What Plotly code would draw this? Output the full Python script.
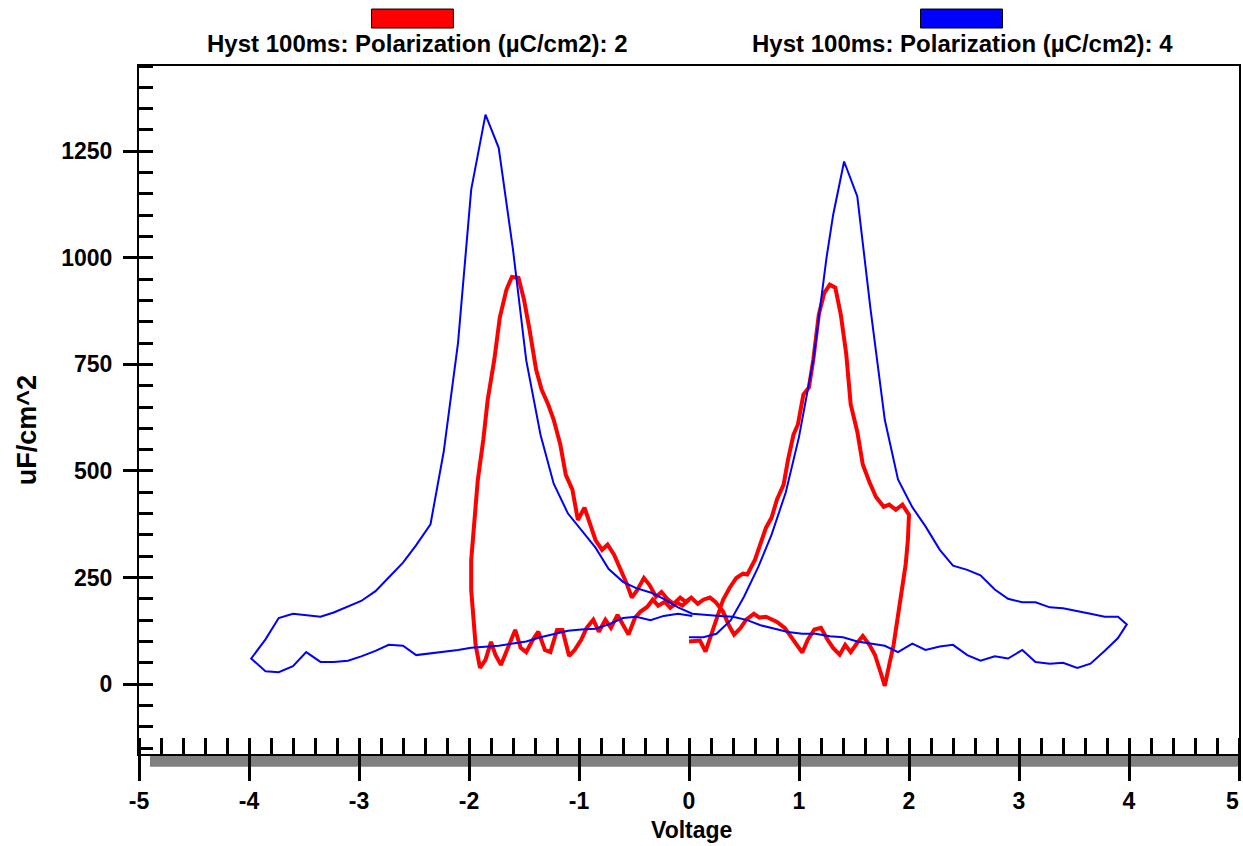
import plotly.graph_objects as go

# ── Data ────────────────────────────────────────────────────────────────────
red_name = "Hyst 100ms: Polarization (µC/cm2): 2"
red_v = [0.00, 0.10, 0.15, 0.21, 0.26, 0.31, 0.37, 0.43, 0.49, 0.53, 0.60, 0.64, 0.70, 0.75,
         0.80, 0.86, 0.90, 0.95, 0.99, 1.04, 1.09, 1.13, 1.18, 1.23, 1.28, 1.33, 1.38, 1.43,
         1.47, 1.53, 1.58, 1.64, 1.70, 1.77, 1.82, 1.88, 1.94, 2.00,
         1.99, 1.97, 1.93, 1.89, 1.86, 1.82, 1.78, 1.74, 1.69, 1.64, 1.58, 1.53, 1.47, 1.42,
         1.37, 1.31, 1.26, 1.20, 1.14, 1.08, 1.03, 0.98, 0.92, 0.87, 0.80, 0.75, 0.70, 0.64,
         0.59, 0.52, 0.47, 0.41, 0.36, 0.31, 0.24, 0.19, 0.13, 0.08, 0.02, -0.03, -0.08, -0.14,
         -0.19, -0.25, -0.30, -0.36, -0.41, -0.47, -0.52, -0.57, -0.63, -0.68, -0.74, -0.79,
         -0.85, -0.90, -0.95, -1.01, -1.06, -1.12, -1.17, -1.23, -1.28, -1.34, -1.39, -1.45,
         -1.50, -1.55, -1.61, -1.66, -1.72, -1.77, -1.83, -1.87, -1.92, -1.95, -1.98,
         -1.98, -1.96, -1.94, -1.90, -1.85, -1.80, -1.76, -1.71, -1.67, -1.62, -1.58, -1.53,
         -1.48, -1.42, -1.37, -1.31, -1.26, -1.20, -1.15, -1.09, -1.04, -0.98, -0.93, -0.87,
         -0.82, -0.76, -0.71, -0.65, -0.60, -0.55, -0.49, -0.44, -0.38, -0.33, -0.28, -0.22,
         -0.17, -0.11, -0.06, 0.00]
red_c = [100, 102, 76, 120, 158, 198, 226, 249, 259, 257, 292, 320, 367, 390,
         433, 468, 526, 585, 609, 679, 696, 761, 867, 918, 937, 930, 867, 773,
         656, 592, 515, 474, 439, 416, 421, 409, 421, 397,
         339, 281, 210, 151, 92, 45, -4, 29, 69, 92, 113, 97, 75, 92,
         69, 85, 104, 132, 128, 104, 74, 92, 116, 132, 146, 151, 158, 156,
         165, 151, 132, 116, 139, 170, 193, 203, 198, 188, 203, 193, 203, 188,
         198, 216, 205, 233, 249, 221, 203, 238, 273, 303, 327, 315,
         338, 374, 414, 385, 456, 491, 562, 620, 656, 691, 738, 832,
         902, 953, 955, 925, 860, 761, 667, 573, 479, 385, 291,
         221, 151, 92, 38, 57, 99, 69, 45, 69, 104, 127, 85,
         75, 104, 123, 80, 75, 127, 127, 66, 80, 104, 132, 151,
         123, 151, 132, 162, 139, 116, 156, 170, 181, 198, 184, 193,
         179, 191, 184, 198]

blue_name = "Hyst 100ms: Polarization (µC/cm2): 4"
blue_v = [0.00, 0.13, 0.25, 0.38, 0.50, 0.63, 0.75, 0.88, 1.00, 1.13, 1.25, 1.31, 1.41, 1.53,
          1.65, 1.78, 1.90, 2.03, 2.15, 2.28, 2.40, 2.53, 2.65, 2.78, 2.90, 3.03, 3.15, 3.28,
          3.40, 3.53, 3.65, 3.78, 3.90, 3.98,
          3.90, 3.78, 3.65, 3.53, 3.40, 3.28, 3.15, 3.03, 2.90, 2.78, 2.65, 2.53, 2.40, 2.28,
          2.15, 2.03, 1.90, 1.78, 1.65, 1.53, 1.40, 1.28, 1.15, 1.03, 0.90, 0.78, 0.65, 0.53,
          0.40, 0.28, 0.15, 0.03, -0.10, -0.23, -0.35, -0.48, -0.60, -0.73, -0.85, -0.98,
          -1.10, -1.23, -1.35, -1.48, -1.60, -1.73, -1.85, -1.98, -2.10, -2.23, -2.35, -2.48,
          -2.60, -2.73, -2.85, -2.98, -3.10, -3.23, -3.35, -3.48, -3.60, -3.73, -3.85, -3.98,
          -3.85, -3.73, -3.60, -3.48, -3.35, -3.23, -3.10, -2.98, -2.85, -2.73, -2.60, -2.48,
          -2.35, -2.23, -2.10, -1.98, -1.85, -1.73, -1.60, -1.48, -1.35, -1.23, -1.10, -0.98,
          -0.85, -0.73, -0.60, -0.48, -0.35, -0.23, -0.10, 0.03]
blue_c = [110, 110, 118, 150, 205, 275, 350, 450, 580, 760, 1000, 1100, 1226, 1144,
          880, 620, 480, 415, 370, 315, 278, 268, 255, 222, 200, 192, 192, 180,
          178, 172, 165, 158, 158, 140,
          108, 78, 48, 38, 50, 48, 52, 80, 60, 65, 55, 68, 92, 88,
          80, 95, 75, 90, 95, 100, 110, 112, 118, 118, 122, 130, 138, 150,
          158, 160, 162, 165, 180, 200, 215, 225, 240, 270, 320, 362,
          400, 470, 585, 760, 1019, 1258, 1336, 1160, 800, 545, 375, 326,
          285, 250, 218, 195, 182, 168, 158, 162, 165, 155, 105, 60,
          30, 28, 42, 75, 52, 52, 55, 65, 78, 92, 90, 68,
          72, 75, 80, 85, 88, 90, 95, 100, 110, 118, 125, 128,
          130, 140, 155, 158, 150, 160, 165, 160]

x_ticks = [-5, -4, -3, -2, -1, 0, 1, 2, 3, 4, 5]
# last label drawn separately so it stays inside the page
x_ticktext = ["-5", "-4", "-3", "-2", "-1", "0", "1", "2", "3", "4", ""]
y_ticks = [0, 250, 500, 750, 1000, 1250]
y_ticktext = ["0", "250", "500", "750", "1000", "1250"]

FONT = "Liberation Sans, Arial, sans-serif"
TICKFONT = dict(family=FONT, size=23, color="black", weight="bold")

# ── Figure ──────────────────────────────────────────────────────────────────
fig = go.Figure()
fig.add_scatter(x=red_v, y=red_c, mode="lines", name=red_name,
                line=dict(color="#ff0000", width=4))
fig.add_scatter(x=blue_v, y=blue_c, mode="lines", name=blue_name,
                line=dict(color="#0000ff", width=2))
# empty trace so the overlay axes (inner half of major ticks) get drawn
fig.add_scatter(x=[], y=[], xaxis="x2", yaxis="y2", showlegend=False, hoverinfo="skip")

axis_common = dict(showgrid=False, zeroline=False, tickcolor="black", tickwidth=3)

fig.update_layout(
    width=1243,
    height=846,
    margin=dict(l=139, r=2, t=66, b=92),
    paper_bgcolor="white",
    plot_bgcolor="white",
    showlegend=False,
    font=dict(family=FONT, color="black"),
    xaxis=dict(
        range=[-5, 5], tickvals=x_ticks, ticktext=x_ticktext, ticks="outside", ticklen=25,
        showline=True, linecolor="black", linewidth=2, mirror=True,
        tickfont=TICKFONT, ticklabelstandoff=0,
        minor=dict(dtick=0.2, ticks="inside", ticklen=16, tickwidth=3, tickcolor="black"),
        **axis_common,
    ),
    yaxis=dict(
        range=[-164, 1450], tickvals=y_ticks, ticktext=y_ticktext, ticks="outside", ticklen=14,
        showline=True, linecolor="black", linewidth=2, mirror=True,
        tickfont=TICKFONT, ticklabelstandoff=6,
        minor=dict(tick0=0, dtick=50, ticks="inside", ticklen=14, tickwidth=3, tickcolor="black"),
        **axis_common,
    ),
    xaxis2=dict(range=[-5, 5], overlaying="x", anchor="y2", tickvals=x_ticks,
                ticks="inside", ticklen=16, showticklabels=False, showline=False,
                **axis_common),
    yaxis2=dict(range=[-164, 1450], overlaying="y", anchor="x2", tickvals=y_ticks,
                ticks="inside", ticklen=14, showticklabels=False, showline=False,
                **axis_common),
)

# grey shadow bar under the x axis
fig.add_shape(type="rect", xref="paper", yref="paper", x0=0.010, x1=1.0,
              y0=-0.0185, y1=0.0, fillcolor="#808080", line=dict(width=0), layer="below")

# legend swatches + labels above the plot
for x0, x1, color, label, xc in [
    (0.2114, 0.2858, "#ff0000", red_name, 0.2532),
    (0.7105, 0.7850, "#0000ff", blue_name, 0.7486),
]:
    fig.add_shape(type="rect", xref="paper", yref="paper", x0=x0, x1=x1,
                  y0=1.0552, y1=1.0828, fillcolor=color, line=dict(color="black", width=1))
    fig.add_annotation(x=xc, y=1.0334, xref="paper", yref="paper", text=label,
                       showarrow=False, font=dict(family=FONT, size=24, weight="bold"),
                       xanchor="center", yanchor="middle")

# "5" tick label at the right edge (kept within the page)
fig.add_annotation(x=1.0018, y=-0.0683, xref="paper", yref="paper", text="5",
                   showarrow=False, font=TICKFONT, xanchor="right", yanchor="middle")

# axis titles
fig.add_annotation(x=0.5027, y=-0.110, xref="paper", yref="paper", text="Voltage",
                   showarrow=False, font=dict(family=FONT, size=23, weight="bold"),
                   xanchor="center", yanchor="middle")
fig.add_annotation(x=-0.1016, y=0.471, xref="paper", yref="paper", text="uF/cm^2",
                   textangle=-90, showarrow=False,
                   font=dict(family=FONT, size=27, weight="bold"),
                   xanchor="center", yanchor="middle")

fig.write_html(
    "out.html",
    config={"displayModeBar": False},
    post_script="document.body.style.margin='0';document.body.style.overflow='hidden';",
)
